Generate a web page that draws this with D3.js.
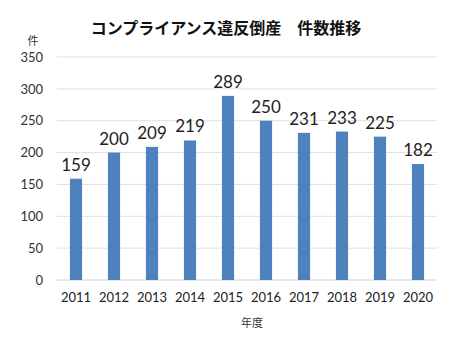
<!DOCTYPE html>
<html><head><meta charset="utf-8">
<script src="https://cdn.jsdelivr.net/npm/d3@7"></script>
<style>body{margin:0;background:#fff}svg{display:block}</style>
</head><body>
<script>
const years = ["2011","2012","2013","2014","2015","2016","2017","2018","2019","2020"];
const counts = [159,200,209,219,289,250,231,233,225,182];
const yTicks = [0,50,100,150,200,250,300,350];
const title = "コンプライアンス違反倒産\u3000件数推移";
const yUnit = "件";
const xTitle = "年度";

const W=470,H=362;
const m={l:57,r:33,t:57,b:82};
const svg=d3.select("body").append("svg").attr("width",W).attr("height",H);
const x=d3.scaleBand().domain(years).range([m.l,W-m.r]).paddingInner(0.68).paddingOuter(0.34);
const y=d3.scaleLinear().domain([0,350]).range([H-m.b,m.t]);
const num="Lato, 'Open Sans', sans-serif";
const jp="'Noto Sans CJK JP', sans-serif";

svg.append("g").selectAll("line").data(yTicks).join("line")
 .attr("x1",m.l).attr("x2",W-m.r).attr("y1",d=>y(d)).attr("y2",d=>y(d))
 .attr("stroke",d=>d===0?"#d0d0d0":"#e0e0e0").attr("stroke-width",1);

const ya=svg.append("g").attr("transform",`translate(${m.l-14},0)`)
 .call(d3.axisLeft(y).tickValues(yTicks).tickSize(0).tickPadding(0));
ya.select(".domain").remove();
ya.selectAll("text").attr("font-family",num).attr("font-size",13).attr("fill","#333");

const xa=svg.append("g").attr("transform",`translate(0,${H-m.b})`)
 .call(d3.axisBottom(x).tickSize(0).tickPadding(13));
xa.select(".domain").remove();
xa.selectAll("text").attr("font-family",num).attr("font-size",13).attr("fill","#222");

svg.append("g").selectAll("rect").data(counts).join("rect")
 .attr("x",(d,i)=>x(years[i])).attr("width",x.bandwidth())
 .attr("y",d=>y(d)).attr("height",d=>y(0)-y(d)).attr("fill","#4f81bd");

svg.append("g").selectAll("text").data(counts).join("text")
 .attr("x",(d,i)=>x(years[i])+x.bandwidth()/2).attr("y",d=>y(d)-8)
 .attr("text-anchor","middle").attr("font-family",num).attr("font-size",17)
 .attr("fill","#222").text(d=>d);

svg.append("text").attr("x",226).attr("y",34).attr("text-anchor","middle")
 .attr("font-family",jp).attr("font-weight","bold").attr("font-size",16).attr("fill","#111").text(title);
svg.append("text").attr("x",33).attr("y",45).attr("text-anchor","middle")
 .attr("font-family",jp).attr("font-size",11).attr("fill","#333").text(yUnit);
svg.append("text").attr("x",252).attr("y",327).attr("text-anchor","middle")
 .attr("font-family",jp).attr("font-size",11).attr("fill","#333").text(xTitle);
</script>
</body></html>
